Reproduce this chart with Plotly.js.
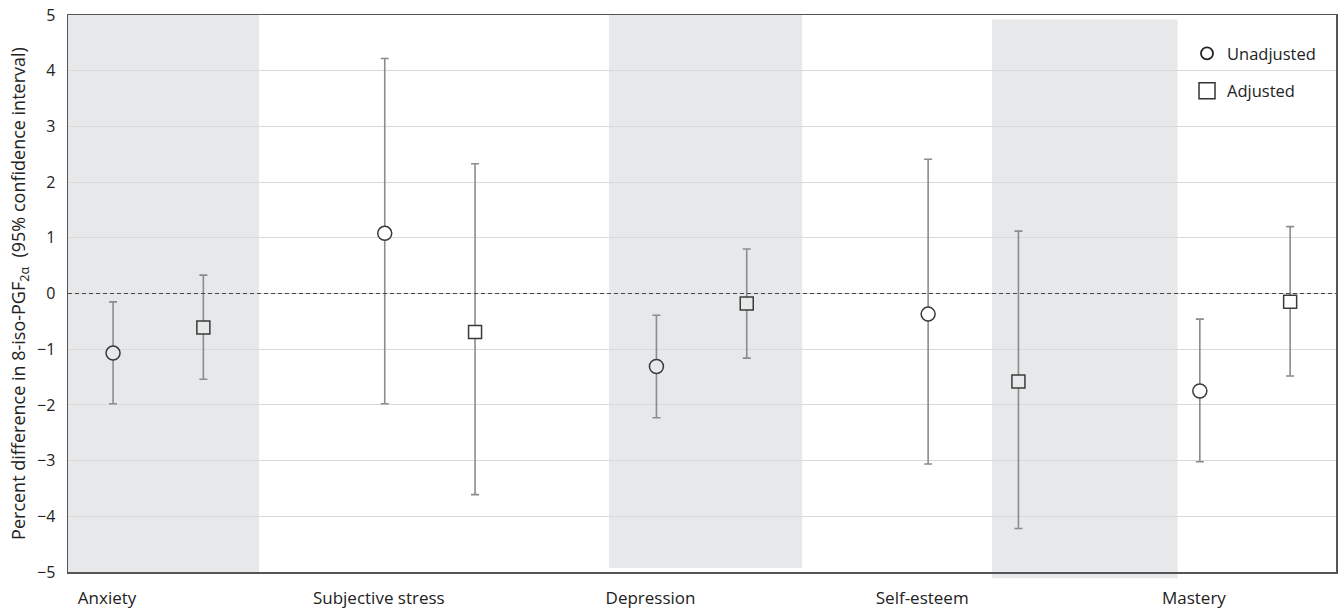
<!DOCTYPE html>
<html>
<head>
<meta charset="utf-8">
<script src="https://cdn.plot.ly/plotly-3.0.1.min.js"></script>
<style>html,body{margin:0;padding:0;background:#fff;}#chart{width:1341px;height:609px;}</style>
</head>
<body>
<div id="chart"></div>
<script>
// Data
const categories = ['Anxiety', 'Subjective stress', 'Depression', 'Self-esteem', 'Mastery'];
const seriesNames = ['Unadjusted', 'Adjusted'];
const unadjEst  = [-1.07,  1.08, -1.31, -0.37, -1.75];
const unadjLow  = [-1.98, -1.98, -2.23, -3.06, -3.02];
const unadjHigh = [-0.15,  4.22, -0.39,  2.41, -0.46];
const adjEst    = [-0.61, -0.69, -0.18, -1.58, -0.15];
const adjLow    = [-1.54, -3.61, -1.16, -4.22, -1.48];
const adjHigh   = [ 0.33,  2.33,  0.80,  1.12,  1.20];
const yTicks    = [-5, -4, -3, -2, -1, 0, 1, 2, 3, 4, 5];

// Layout helpers (positions/styles)
const OFF = 0.1662;
const idx = categories.map((_, i) => i);
const xUn = idx.map(i => i - OFF);
const xAd = idx.map(i => i + OFF);
const bandColor = '#e7e8ea';
const bands = [[-0.34, 0.371, 0, 1], [1.659, 2.370, 0.007, 1], [3.069, 3.752, -0.011, 0.992]];
const inBand = x => bands.some(b => x >= b[0] && x <= b[1]);

const errStyle = {color: '#8c8c8c', thickness: 1.6, width: 4};
const mk = (sym, size, xs) => ({
  symbol: sym, size: size,
  color: xs.map(x => inBand(x) ? bandColor : '#ffffff'),
  line: {color: '#3a3a3a', width: 1.5}
});

const traces = [
  {
    type: 'scatter', mode: 'markers', name: seriesNames[0], showlegend: false,
    x: xUn, y: unadjEst,
    error_y: Object.assign({type: 'data', symmetric: false,
      array: unadjHigh.map((h, i) => h - unadjEst[i]),
      arrayminus: unadjLow.map((l, i) => unadjEst[i] - l)}, errStyle),
    marker: mk('circle', 14, xUn), hoverinfo: 'y'
  },
  {
    type: 'scatter', mode: 'markers', name: seriesNames[1], showlegend: false,
    x: xAd, y: adjEst,
    error_y: Object.assign({type: 'data', symmetric: false,
      array: adjHigh.map((h, i) => h - adjEst[i]),
      arrayminus: adjLow.map((l, i) => adjEst[i] - l)}, errStyle),
    marker: mk('square', 13, xAd), hoverinfo: 'y'
  },
  // legend entries
  {type: 'scatter', mode: 'markers', name: seriesNames[0], legendgroup: 'a', x: [null], y: [null],
   marker: {symbol: 'circle', size: 12, color: '#fff', line: {color: '#222', width: 1.8}}},
  {type: 'scatter', mode: 'markers', name: seriesNames[1], legendgroup: 'b', x: [null], y: [null],
   marker: {symbol: 'square', size: 16, color: '#fff', line: {color: '#333', width: 1.5}}}
];

const shapes = bands.map(b => ({
  type: 'rect', layer: 'below', xref: 'x', yref: 'paper',
  x0: b[0], x1: b[1], y0: b[2], y1: b[3],
  fillcolor: bandColor, line: {width: 0}
}));
shapes.push({
  type: 'line', layer: 'above', xref: 'paper', yref: 'y',
  x0: 0, x1: 1, y0: 0, y1: 0,
  line: {color: '#444', width: 1, dash: '4px,3px'}
});

const fam = '"Open Sans", "Noto Sans", sans-serif';
const col = '#222';

const layout = {
  width: 1341, height: 609,
  margin: {l: 68, r: 5, t: 15, b: 37},
  paper_bgcolor: '#fff', plot_bgcolor: '#fff',
  font: {family: fam, size: 16, color: col},
  showlegend: true,
  legend: {
    x: 0.8825, y: 0.962, xanchor: 'left', yanchor: 'top',
    bgcolor: 'rgba(0,0,0,0)', font: {family: fam, size: 16.5, color: col},
    traceorder: 'grouped', tracegroupgap: 13
  },
  xaxis: {
    range: [-0.332, 4.335],
    tickvals: idx.map(i => i - 0.188), ticktext: categories,
    ticks: '', showgrid: false, zeroline: false,
    showline: true, mirror: true, linecolor: '#555', linewidth: 1.5,
    ticklabelstandoff: 10, tickfont: {family: fam, size: 17, color: col}, fixedrange: true
  },
  yaxis: {
    range: [-5, 5], tickvals: yTicks,
    ticks: '', showgrid: true, gridcolor: '#d9d9d9', gridwidth: 1,
    zeroline: false,
    showline: true, mirror: true, linecolor: '#555', linewidth: 1.5,
    ticklabelstandoff: 8, tickfont: {family: fam, size: 16, color: col}, fixedrange: true,
    title: {text: 'Percent difference in 8-iso-PGF<sub>2α</sub>&nbsp;&nbsp;(95% confidence interval)',
            font: {family: fam, size: 18, color: col}, standoff: 6}
  },
  shapes: shapes
};

Plotly.newPlot('chart', traces, layout, {displayModeBar: false, staticPlot: true});
</script>
</body>
</html>
